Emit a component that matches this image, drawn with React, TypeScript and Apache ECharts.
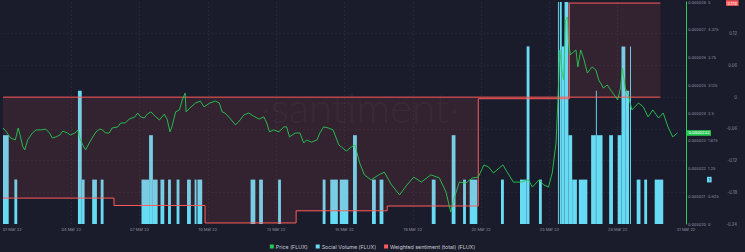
import React, { useEffect, useRef } from "react";
import * as echarts from "echarts";

// x axis: hours since the first tick; a labelled tick every 72 hours
const xLabels = [
  "01 Mar 22", "04 Mar 22", "07 Mar 22", "10 Mar 22", "13 Mar 22", "16 Mar 22",
  "19 Mar 22", "22 Mar 22", "25 Mar 22", "28 Mar 22", "31 Mar 22",
];

// Price (FLUX): [hour, USD]
const pricePoints: [number, number][] = [
  [0, 23.46e-6], [3, 23.35e-6], [8, 23.10e-6], [13, 23.03e-6], [16, 23.46e-6], [18, 23.21e-6],
  [21, 22.77e-6], [23, 22.67e-6], [26, 23.03e-6], [31, 23.28e-6], [35, 23.39e-6], [40, 23.39e-6],
  [45, 23.42e-6], [49, 23.28e-6], [52, 23.10e-6], [56, 23.14e-6], [60, 23.21e-6], [63, 23.35e-6],
  [68, 23.28e-6], [71, 23.21e-6], [76, 23.28e-6], [79, 23.39e-6], [81, 23.10e-6], [84, 22.85e-6],
  [87, 22.67e-6], [91, 22.92e-6], [94, 23.10e-6], [98, 23.32e-6], [102, 23.42e-6], [105, 23.39e-6],
  [108, 23.28e-6], [112, 23.28e-6], [115, 23.46e-6], [121, 23.50e-6], [124, 23.64e-6], [129, 23.64e-6],
  [133, 23.78e-6], [139, 23.86e-6], [142, 24.00e-6], [145, 23.86e-6], [149, 23.82e-6], [152, 23.96e-6],
  [156, 24.04e-6], [161, 23.86e-6], [165, 23.75e-6], [170, 23.96e-6], [173, 23.78e-6], [176, 23.32e-6],
  [178, 23.50e-6], [182, 24.04e-6], [186, 24.11e-6], [189, 24.47e-6], [192, 24.72e-6], [193, 24.04e-6],
  [197, 24.18e-6], [203, 24.36e-6], [208, 24.43e-6], [212, 24.22e-6], [215, 24.29e-6], [218, 24.36e-6],
  [224, 24.43e-6], [228, 24.36e-6], [231, 24.04e-6], [234, 24.00e-6], [239, 23.82e-6], [245, 23.57e-6],
  [249, 23.71e-6], [254, 23.93e-6], [259, 24.00e-6], [264, 23.89e-6], [270, 23.78e-6], [275, 23.86e-6],
  [278, 23.64e-6], [281, 23.32e-6], [285, 23.39e-6], [291, 23.32e-6], [296, 23.50e-6], [299, 23.50e-6],
  [302, 23.14e-6], [308, 23.28e-6], [313, 23.28e-6], [317, 22.92e-6], [320, 23.03e-6], [325, 22.95e-6],
  [331, 23.03e-6], [334, 23.28e-6], [338, 23.50e-6], [343, 23.46e-6], [348, 23.39e-6], [354, 22.85e-6],
  [357, 22.77e-6], [362, 22.63e-6], [367, 22.77e-6], [371, 22.85e-6], [376, 22.20e-6], [381, 21.77e-6],
  [388, 21.59e-6], [396, 21.77e-6], [402, 21.87e-6], [409, 21.44e-6], [418, 21.05e-6], [425, 21.37e-6],
  [433, 21.69e-6], [441, 21.51e-6], [451, 21.77e-6], [460, 21.66e-6], [467, 21.15e-6], [472, 20.43e-6],
  [475, 20.86e-6], [481, 21.51e-6], [488, 21.48e-6], [495, 21.66e-6], [501, 21.69e-6], [507, 22.13e-6],
  [512, 22.05e-6], [517, 21.84e-6], [527, 22.13e-6], [532, 21.84e-6], [538, 21.51e-6], [546, 21.51e-6],
  [554, 21.59e-6], [558, 21.33e-6], [565, 21.59e-6], [570, 21.41e-6], [575, 21.33e-6], [579, 21.84e-6],
  [583, 22.92e-6], [585, 24.47e-6], [587, 26.27e-6], [589, 25.55e-6], [591, 25.19e-6], [593, 27.35e-6],
  [595, 27.46e-6], [596, 26.63e-6], [598, 26.09e-6], [600, 26.16e-6], [604, 26.27e-6], [606, 25.66e-6],
  [609, 26.27e-6], [612, 25.98e-6], [616, 25.44e-6], [621, 25.66e-6], [625, 25.55e-6], [628, 25.19e-6],
  [633, 24.90e-6], [637, 25.01e-6], [642, 24.76e-6], [648, 24.47e-6], [651, 24.90e-6], [653, 25.62e-6],
  [656, 24.90e-6], [659, 24.65e-6], [663, 24.11e-6], [670, 24.36e-6], [675, 24.22e-6], [680, 23.86e-6],
  [685, 24.11e-6], [691, 23.82e-6], [696, 24.00e-6], [701, 23.50e-6], [706, 23.14e-6], [711, 23.28e-6],
];

// Social Volume (FLUX): runs of hours [startHour, endHour, volume]
const socialRuns: [number, number, number][] = [
  [0, 6, 2], [12, 15, 1], [79, 83, 3], [83, 86, 1], [94, 99, 1], [103, 106, 1],
  [146, 154, 1], [154, 158, 2], [158, 163, 1], [166, 170, 1], [174, 177, 1], [183, 186, 1],
  [194, 198, 1], [202, 204, 1], [205, 210, 1], [261, 266, 1], [270, 274, 1], [290, 293, 1],
  [337, 340, 1], [345, 353, 1], [355, 364, 1], [369, 373, 2], [389, 393, 1], [397, 401, 1],
  [452, 456, 1], [473, 477, 2], [485, 488, 1], [492, 500, 1], [525, 528, 1], [545, 552, 1],
  [552, 555, 4], [565, 568, 1], [585, 586, 5], [587, 589, 5], [589, 592, 4], [592, 596, 5],
  [596, 600, 2], [600, 605, 1], [607, 616, 1], [620, 625, 2], [625, 626, 3], [626, 632, 2],
  [639, 643, 2], [648, 652, 2], [652, 656, 4], [656, 660, 3], [661, 662, 4], [668, 672, 1],
  [676, 679, 1], [687, 696, 1],
];

// Weighted sentiment (total) (FLUX): step values
const sentimentHours = [0, 117, 213, 309, 405, 501, 597, 693];
const sentimentValues = [-0.191, -0.205, -0.238, -0.215, -0.206, -0.003, 0.178, 0.178];

const BG = "#1b1c2b";
const GREEN = "#26c953";
const BLUE = "#68dbf4";
const RED = "#ff5b5b";
const LABEL = "#8e91a3";
const FONT = "Inter, 'Noto Sans', sans-serif";

export default function App() {
  const ref = useRef<HTMLDivElement>(null);

  useEffect(() => {
    document.body.style.margin = "0";
    const chart = echarts.init(ref.current!, undefined, { renderer: "svg" });

    const lastPrice = pricePoints[pricePoints.length - 1][1];
    const lastSocial = socialRuns[socialRuns.length - 1][2];
    const lastSentiment = sentimentValues[sentimentValues.length - 1];
    const sentimentData = sentimentHours.map((h, i) => [h, sentimentValues[i]]);
    const baselineData = [
      [sentimentHours[0], 0],
      [sentimentHours[sentimentHours.length - 1], 0],
    ];

    const badge = (bg: string, color: string, distance: number, text: string) => ({
      show: true,
      position: "end",
      distance,
      backgroundColor: bg,
      color,
      opacity: 1,
      fontSize: 4,
      fontFamily: FONT,
      padding: [1, 1.5, 0.6, 1.5],
      borderRadius: 0,
      formatter: () => text,
    });

    const hiddenLine = { color: "rgba(0,0,0,0)", width: 0, opacity: 1 };

    const option: any = {
      animation: false,
      backgroundColor: BG,
      textStyle: { fontFamily: FONT },
      grid: { left: 0, right: 59, top: 2, bottom: 28, containLabel: false },
      legend: {
        top: 239,
        left: "center",
        icon: "rect",
        itemWidth: 4,
        itemHeight: 4,
        itemGap: 8,
        textStyle: { color: "#c8cad6", fontSize: 5.3, fontFamily: FONT, padding: [0, 0, 0, -3] },
        data: ["Price (FLUX)", "Social Volume (FLUX)", "Weighted sentiment (total) (FLUX)"],
      },
      graphic: [
        {
          type: "text",
          x: 360,
          y: 107,
          z: 0,
          silent: true,
          style: {
            text: "·santiment·",
            fontSize: 42,
            fontWeight: 300,
            fontFamily: "Lato, Inter, sans-serif",
            fill: "rgba(255,255,255,0.05)",
            align: "center",
            verticalAlign: "middle",
          },
        },
      ],
      xAxis: {
        type: "value",
        min: 0,
        max: 720,
        interval: 72,
        axisLine: { show: false, onZero: false },
        axisTick: { show: false },
        splitLine: {
          show: true,
          showMinLine: false,
          showMaxLine: false,
          lineStyle: { color: "rgba(255,255,255,0.05)", type: [2, 2], width: 1 },
        },
        axisLabel: {
          color: LABEL,
          fontSize: 4,
          margin: 3,
          alignMinLabel: "left",
          formatter: (v: number) => xLabels[Math.round(v / 72)] ?? "",
        },
      },
      yAxis: [
        {
          type: "value",
          position: "right",
          min: 20e-6,
          max: 28e-6,
          interval: 1e-6,
          axisLine: { show: true, onZero: false, lineStyle: { color: GREEN, width: 1 } },
          axisTick: { show: false },
          splitLine: { show: false },
          axisLabel: { color: LABEL, fontSize: 3.9, margin: 2, formatter: (v: number) => v.toFixed(6) },
        },
        {
          type: "value",
          position: "right",
          offset: 21,
          min: 0,
          max: 5,
          interval: 0.625,
          axisLine: { show: false, onZero: false },
          axisTick: { show: false },
          splitLine: { show: false },
          axisLabel: { color: LABEL, fontSize: 3.9, margin: 1 },
        },
        {
          type: "value",
          position: "right",
          offset: 52,
          min: -0.24,
          max: 0.18,
          interval: 0.06,
          axisLine: { show: false, onZero: false },
          axisTick: { show: false },
          splitLine: {
            show: true,
            showMinLine: false,
            showMaxLine: false,
            lineStyle: { color: "rgba(255,255,255,0.035)", type: [2, 2], width: 1 },
          },
          axisLabel: {
            color: LABEL,
            fontSize: 4.2,
            inside: true,
            margin: 1,
            showMaxLabel: false,
            formatter: (v: number) => String(Math.round(v * 100) / 100),
          },
        },
      ],
      series: [
        {
          name: "Social Volume (FLUX)",
          type: "custom",
          xAxisIndex: 0,
          yAxisIndex: 1,
          z: 2,
          itemStyle: { color: BLUE },
          encode: { x: [0, 1], y: 2 },
          data: socialRuns,
          renderItem: (_params: any, api: any) => {
            const p0 = api.coord([api.value(0), 0]);
            const p1 = api.coord([api.value(1), api.value(2)]);
            return {
              type: "rect",
              shape: { x: p0[0], y: p1[1], width: p1[0] - p0[0], height: p0[1] - p1[1] },
              style: { fill: BLUE },
            };
          },
          markLine: {
            silent: true,
            precision: 10,
            symbol: ["none", "none"],
            lineStyle: hiddenLine,
            data: [
              { yAxis: lastSocial, label: badge(BLUE, "#10202a", 21, String(lastSocial)) },
            ],
          },
        },
        {
          name: "Weighted sentiment (total) (FLUX)",
          type: "line",
          xAxisIndex: 0,
          yAxisIndex: 2,
          z: 3,
          step: "end",
          symbol: "none",
          itemStyle: { color: RED },
          lineStyle: { color: RED, width: 1 },
          areaStyle: { color: "rgba(255,91,91,0.15)" },
          data: sentimentData,
          markLine: {
            silent: true,
            precision: 10,
            symbol: ["none", "none"],
            lineStyle: hiddenLine,
            data: [
              { yAxis: lastSentiment, label: badge(RED, "#ffffff", 40, lastSentiment.toFixed(3)) },
            ],
          },
        },
        {
          name: "sentiment zero",
          type: "line",
          xAxisIndex: 0,
          yAxisIndex: 2,
          z: 3,
          silent: true,
          symbol: "none",
          itemStyle: { color: RED },
          lineStyle: { color: RED, width: 1 },
          data: baselineData,
        },
        {
          name: "Price (FLUX)",
          type: "line",
          xAxisIndex: 0,
          yAxisIndex: 0,
          z: 4,
          symbol: "none",
          itemStyle: { color: GREEN },
          lineStyle: { color: GREEN, width: 0.9 },
          data: pricePoints,
          markLine: {
            silent: true,
            precision: 12,
            symbol: ["none", "none"],
            lineStyle: hiddenLine,
            data: [
              { yAxis: lastPrice, label: badge(GREEN, "#ffffff", 1, lastPrice.toFixed(7)) },
            ],
          },
        },
      ],
    };

    chart.setOption(option);
    return () => chart.dispose();
  }, []);

  return (
    <div
      ref={ref}
      style={{ position: "fixed", left: 0, top: 0, width: 745, height: 252 }}
    />
  );
}
